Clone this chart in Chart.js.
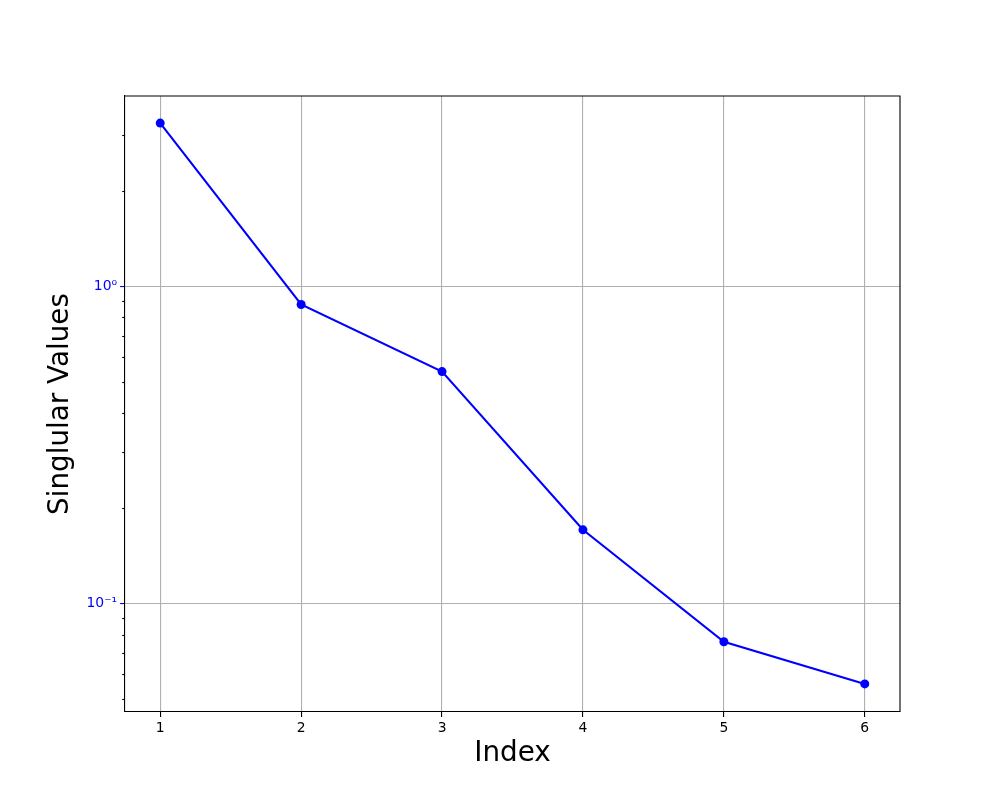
<!DOCTYPE html>
<html>
<head>
<meta charset="utf-8">
<script src="https://cdn.jsdelivr.net/npm/chart.js@4"></script>
<style>
  body { margin: 0; background: #fff; }
  canvas { display: block; }
</style>
</head>
<body>
<canvas id="svChart" width="1000" height="800"></canvas>
<script>
// singular values (log scale)
var indices = [1, 2, 3, 4, 5, 6];
var singularValues = [3.27, 0.877, 0.539, 0.171, 0.0759, 0.0559];
var yMajorTicks = [0.1, 1];
var yTickLabels = ['10\u207B\u00B9', '10\u2070'];
var yMinorTicks = [0.05, 0.06, 0.07, 0.08, 0.09, 0.2, 0.3, 0.4, 0.5, 0.6, 0.7, 0.8, 0.9, 2, 3, 4];

var points = indices.map(function (x, i) { return { x: x, y: singularValues[i] }; });

// top/right spines and the small minor ticks on the log axis
var framePlugin = {
  id: 'frame',
  afterDraw: function (chart) {
    var c = chart.ctx, a = chart.chartArea, ys = chart.scales.y;
    c.save();
    c.strokeStyle = '#000';
    c.lineWidth = 1.1;
    yMinorTicks.forEach(function (v) {
      var py = Math.round(ys.getPixelForValue(v)) + 0.5;
      if (py < a.top + 1 || py > a.bottom) return;
      c.beginPath();
      c.moveTo(a.left, py);
      c.lineTo(a.left - 2.8, py);
      c.stroke();
    });
    c.beginPath();
    c.moveTo(a.left, a.top);
    c.lineTo(a.right, a.top);
    c.lineTo(a.right, a.bottom);
    c.stroke();
    c.restore();
  }
};

var ctx = document.getElementById('svChart').getContext('2d');
var svChart = new Chart(ctx, {
  type: 'line',
  data: {
    datasets: [{
      label: 'Singular values',
      data: points,
      borderColor: '#0000ff',
      backgroundColor: '#0000ff',
      borderWidth: 2.1,
      pointRadius: 4.5,
      pointHoverRadius: 4.5,
      pointBorderWidth: 0,
      tension: 0
    }]
  },
  options: {
    responsive: false,
    animation: false,
    layout: { padding: { top: 96, right: 100, left: 0, bottom: 0 } },
    plugins: {
      legend: { display: false },
      tooltip: { enabled: false }
    },
    scales: {
      x: {
        type: 'linear',
        min: 0.75,
        max: 6.25,
        afterFit: function (s) { s.height = 88; },
        afterBuildTicks: function (s) {
          s.ticks = indices.map(function (v) { return { value: v }; });
        },
        ticks: {
          color: '#000',
          padding: 3,
          font: { family: 'DejaVu Sans', size: 13.9 },
          maxRotation: 0,
          autoSkip: false
        },
        grid: {
          color: '#b0b0b0',
          lineWidth: 1.1,
          tickColor: '#000',
          tickLength: 4.9
        },
        border: { color: '#000', width: 1.1 },
        title: {
          display: true,
          text: 'Index',
          color: '#000',
          font: { family: 'DejaVu Sans', size: 27.8, weight: 'normal' },
          padding: { top: 0, bottom: 30 }
        }
      },
      y: {
        type: 'logarithmic',
        min: 0.0456,
        max: 3.98,
        afterFit: function (s) { s.width = 125; },
        afterBuildTicks: function (s) {
          s.ticks = yMajorTicks.map(function (v) { return { value: v }; });
        },
        ticks: {
          color: '#0000ff',
          padding: 3,
          autoSkip: false,
          font: { family: 'DejaVu Sans', size: 13.9 },
          callback: function (value) {
            var i = yMajorTicks.indexOf(value);
            return i >= 0 ? yTickLabels[i] : '';
          }
        },
        grid: {
          color: '#b0b0b0',
          lineWidth: 1.1,
          tickColor: '#0000ff',
          tickLength: 4.9
        },
        border: { color: '#000', width: 1.1 },
        title: {
          display: true,
          text: 'Singlular Values',
          color: '#000',
          font: { family: 'DejaVu Sans', size: 27.8, weight: 'normal' },
          padding: { top: 44, bottom: 0 }
        }
      }
    }
  },
  plugins: [framePlugin]
});
</script>
</body>
</html>
